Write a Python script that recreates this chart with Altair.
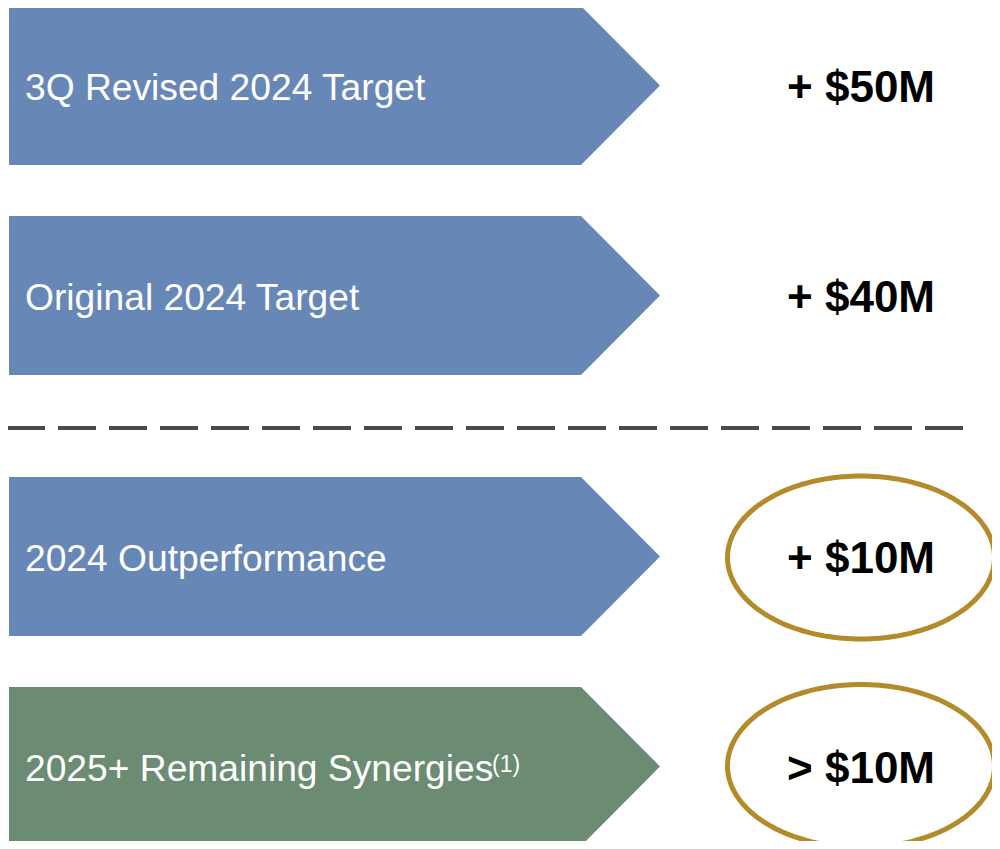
import altair as alt
import numpy as np
import pandas as pd

# ---- data ----
labels = ["3Q Revised 2024 Target", "Original 2024 Target", "2024 Outperformance", "2025+ Remaining Synergies"]
footnotes = ["", "", "", "(1)"]
value_labels = ["+ $50M", "+ $40M", "+ $10M", "> $10M"]
amounts_musd = [50, 40, 10, 10]
groups = ["2024", "2024", "2024", "2025+"]
highlighted = [False, False, True, True]

# ---- layout (pixel space of the 1000x849 page) ----
W, H = 984, 833
tops = [6, 216, 477, 687]
bottoms = [165, 375, 636, 846]
x_left, x_body, x_tip = 9, 581, 660
label_x = 25
value_x = 861
ell_rx, ell_ry = 133.5, 81.5
ell_cy = {2: 557.5, 3: 766}
divider_y = 428

group_colors = {"2024": "#6787b7", "2025+": "#6b8c73"}

# chevron polygons as areas
rows = []
for i in range(4):
    mid = (tops[i] + bottoms[i]) / 2
    for x, yt, yb in [(x_left, tops[i], bottoms[i]), (x_body, tops[i], bottoms[i]), (x_tip, mid, mid)]:
        rows.append({"arrow": i, "group": groups[i], "x": x, "yt": yt, "yb": yb})
arr_df = pd.DataFrame(rows)

lab_df = pd.DataFrame({
    "arrow": range(4),
    "label": labels,
    "foot": footnotes,
    "value": value_labels,
    "amount": amounts_musd,
    "yc": [(t + b) / 2 for t, b in zip(tops, bottoms)],
})
lab_df["label_y"] = lab_df["yc"] + 14
lab_df["value_y"] = lab_df["yc"] + 16.5
lab_df["lx"] = label_x
lab_df["vx"] = value_x

t = np.linspace(0, 2 * np.pi, 181)
ell_rows = []
for i in range(4):
    if highlighted[i]:
        for k, tt in enumerate(t):
            ell_rows.append({"arrow": i, "k": k,
                             "x": value_x + ell_rx * np.cos(tt),
                             "y": ell_cy[i] + ell_ry * np.sin(tt)})
ell_df = pd.DataFrame(ell_rows)

foot_df = lab_df[lab_df["foot"] != ""].copy()
foot_df["fx"] = 492
foot_df["fy"] = foot_df["yc"] + 5.5

div_df = pd.DataFrame({"x": [7], "x2": [967], "y": [divider_y]})

xs = alt.Scale(domain=[8, 8 + W], nice=False, zero=False)
ys = alt.Scale(domain=[8 + H, 8], nice=False, zero=False)
X = lambda f: alt.X(f, type="quantitative", scale=xs, axis=None)
Y = lambda f: alt.Y(f, type="quantitative", scale=ys, axis=None)

arrows = alt.Chart(arr_df).mark_area(opacity=1).encode(
    x=X("x"), y=Y("yt"), y2="yb",
    detail="arrow:N",
    color=alt.Color("group:N", scale=alt.Scale(domain=list(group_colors), range=list(group_colors.values())), legend=None),
)

divider = alt.Chart(div_df).mark_rule(color="#4a4a4a", strokeWidth=4, strokeDash=[38, 13]).encode(
    x=X("x"), x2="x2", y=Y("y")
)

label_text = alt.Chart(lab_df).mark_text(
    align="left", baseline="alphabetic", font="Liberation Sans", fontSize=37.2, color="white"
).encode(x=X("lx"), y=Y("label_y"), text="label:N")

foot_text = alt.Chart(foot_df).mark_text(
    align="left", baseline="alphabetic", font="Liberation Sans", fontSize=23, color="white"
).encode(x=X("fx"), y=Y("fy"), text="foot:N")

value_text = alt.Chart(lab_df).mark_text(
    align="center", baseline="alphabetic", font="Liberation Sans", fontSize=44, fontWeight="bold", color="black"
).encode(x=X("vx"), y=Y("value_y"), text="value:N")

ellipses = alt.Chart(ell_df).mark_line(color="#b38b2b", strokeWidth=5).encode(
    x=X("x"), y=Y("y"), detail="arrow:N", order="k:Q"
)

chart = alt.layer(arrows, divider, label_text, foot_text, value_text, ellipses).properties(
    width=W, height=H, autosize=alt.AutoSizeParams(type="none"), padding=0, background="white"
).configure_view(stroke=None)

chart.save("out.html", embed_options={"renderer": "svg", "actions": False})
